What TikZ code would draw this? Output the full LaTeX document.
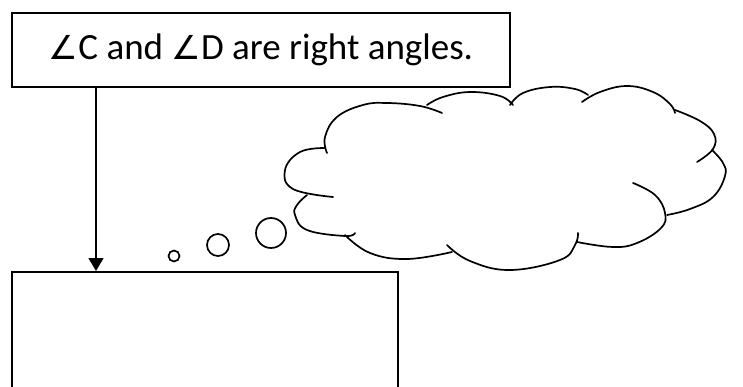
\documentclass[tikz,border=0pt]{standalone}
\usepackage{fontspec}
\setmainfont{Carlito}
\newfontfamily\symfont{DejaVu Sans}
\usetikzlibrary{arrows.meta}
\newcommand{\angsym}{{\symfont\fontsize{33}{36}\selectfont ∠}}
\tikzset{
  boxstyle/.style={draw, line width=2pt, rectangle, inner sep=0pt},
  cloudline/.style={line width=1.7pt, line cap=round},
  bubble/.style={line width=1.7pt},
}
\begin{document}
\begin{tikzpicture}[x=1pt,y=-1pt]
\useasboundingbox (0,0) rectangle (743,387);
\clip (0,0) rectangle (743,387);
% top box
\node[boxstyle, minimum width=498pt, minimum height=74pt, anchor=north west,
      font=\fontsize{37}{40}\selectfont] (top) at (11,12)
      {\raisebox{-1pt}{\angsym C and \angsym D are right angles.}};
% bottom box (runs past the lower edge)
\node[boxstyle, minimum width=386pt, minimum height=160pt, anchor=north west] (bottom) at (11,271) {};
% arrow
\coordinate (ax) at (96,0);
\draw[line width=1.5pt, -{Triangle[length=13pt,width=15pt]}] (top.south -| ax) -- (bottom.north -| ax);
% thought bubbles
\draw[bubble] (174,256) circle (5.5);
\draw[bubble] (218,245) circle (11);
\draw[bubble] (271,233) circle (15);
% cloud lobes
\draw[cloudline] plot[smooth, tension=0.7] coordinates {(325,148) (300,152) (285,170) (293,189) (333,197)};
\draw[cloudline] plot[smooth, tension=0.7] coordinates {(327,153) (325,137) (337,117) (363,105) (387,103) (420,106) (442,113)};
\draw[cloudline] plot[smooth, tension=0.7] coordinates {(427,105) (443,97) (470,92) (500,96) (513,105)};
\draw[cloudline] plot[smooth, tension=0.7] coordinates {(510,105) (523,93) (550,87) (575,89) (588,95)};
\draw[cloudline] plot[smooth, tension=0.7] coordinates {(582,102) (600,92) (627,86) (653,92) (670,104) (675,113)};
\draw[cloudline] plot[smooth, tension=0.7] coordinates {(675,110) (700,121) (714,134) (713,149) (697,162)};
\draw[cloudline] plot[smooth, tension=0.7] coordinates {(712,150) (723,163) (725,176) (713,197) (690,209) (667,215)};
\draw[cloudline] plot[smooth, tension=0.7] coordinates {(633,183) (655,195) (665,213) (661,228) (637,243) (613,247) (577,242)};
\draw[cloudline] plot[smooth, tension=0.7] coordinates {(578,233) (575,245) (560,260) (510,270) (470,261) (447,245)};
\draw[cloudline] plot[smooth, tension=0.7] coordinates {(452,252) (407,259) (370,253) (345,235)};
\draw[cloudline] plot[smooth, tension=0.7] coordinates {(307,195) (297,205) (295,215) (307,230) (345,236) (355,233)};
\end{tikzpicture}
\end{document}
